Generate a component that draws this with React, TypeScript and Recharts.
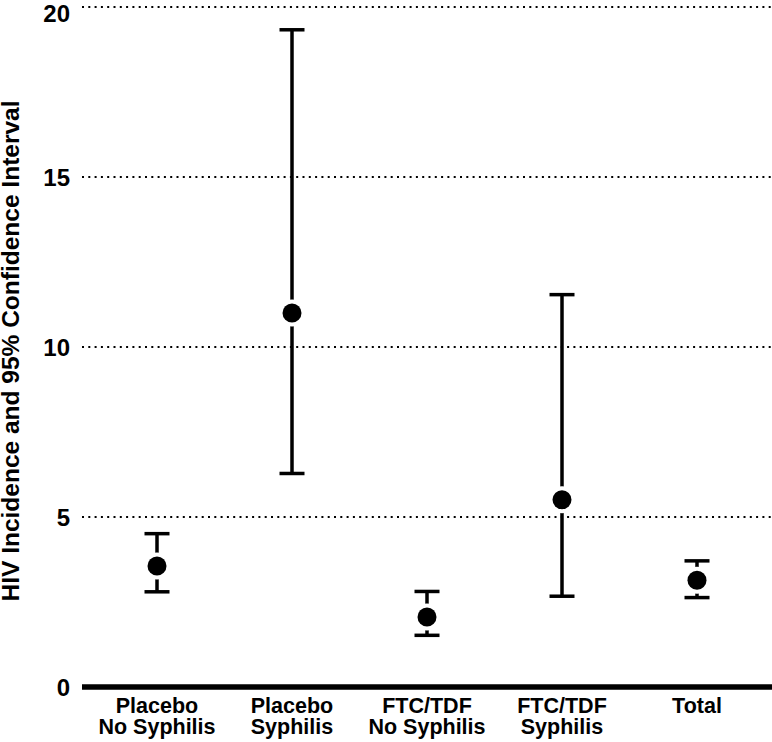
import React from "react";
import {
  ComposedChart, Scatter, ErrorBar, XAxis, YAxis, CartesianGrid,
} from "recharts";

const categories = [
  "Placebo\nNo Syphilis",
  "Placebo\nSyphilis",
  "FTC/TDF\nNo Syphilis",
  "FTC/TDF\nSyphilis",
  "Total",
];
const incidence = [3.56, 11.0, 2.06, 5.51, 3.14];
const lower = [2.8, 6.28, 1.52, 2.67, 2.63];
const upper = [4.51, 19.33, 2.81, 11.54, 3.71];
const yTicks = [0, 5, 10, 15, 20];

const data = categories.map((name, i) => ({
  name,
  value: incidence[i],
  err: [incidence[i] - lower[i], upper[i] - incidence[i]],
}));

const FONT = '"Liberation Sans", Arial, Helvetica, sans-serif';

const Dot = (props: any) => {
  const { cx, cy } = props;
  return (
    <g>
      <circle cx={cx} cy={cy} r={13.5} fill="#fff" />
      <circle cx={cx} cy={cy} r={9.5} fill="#000" />
    </g>
  );
};

const XTick = (props: any) => {
  const { x, y, payload } = props;
  const lines = String(payload.value).split("\n");
  return (
    <text x={x} y={y} textAnchor="middle" fill="#000" fontSize={21.5} fontWeight={700} fontFamily={FONT}>
      {lines.map((l, i) => (
        <tspan key={i} x={x} y={y + 26 + i * 21}>{l}</tspan>
      ))}
    </text>
  );
};

const YLabel = () => (
  <text
    transform="translate(19,351) rotate(-90)"
    textAnchor="middle"
    fill="#000"
    fontSize={24.5}
    fontWeight={700}
    fontFamily={FONT}
  >
    HIV Incidence and 95% Confidence Interval
  </text>
);

export default function App() {
  return (
    <div style={{ position: "absolute", left: 0, top: 0, width: 772, height: 742, fontFamily: FONT, background: "#fff" }}>
      <ComposedChart width={772} height={742} data={data} margin={{ top: 7, right: 0, bottom: 0, left: 0 }}>
        <CartesianGrid
          vertical={false}
          horizontalValues={[5, 10, 15, 20]}
          stroke="#000"
          strokeWidth={2}
          strokeDasharray="2 4.3"
        />
        <XAxis
          dataKey="name"
          type="category"
          height={55}
          padding={{ left: 75, right: 75 }}
          tickLine={false}
          tickSize={0}
          tickMargin={0}
          interval={0}
          axisLine={{ stroke: "#000", strokeWidth: 5.5 }}
          tick={<XTick />}
        />
        <YAxis
          type="number"
          domain={[0, 20]}
          ticks={yTicks}
          width={82}
          axisLine={false}
          tickLine={false}
          tickSize={0}
          tickMargin={12}
          tick={{ fontSize: 24, fontWeight: 700, fill: "#000", fontFamily: FONT }}
          label={() => <YLabel />}
        />
        <Scatter dataKey="value" isAnimationActive={false} shape={<Dot />}>
          <ErrorBar dataKey="err" direction="y" width={12.5} stroke="#000" strokeWidth={3.5} isAnimationActive={false} />
        </Scatter>
      </ComposedChart>
    </div>
  );
}
